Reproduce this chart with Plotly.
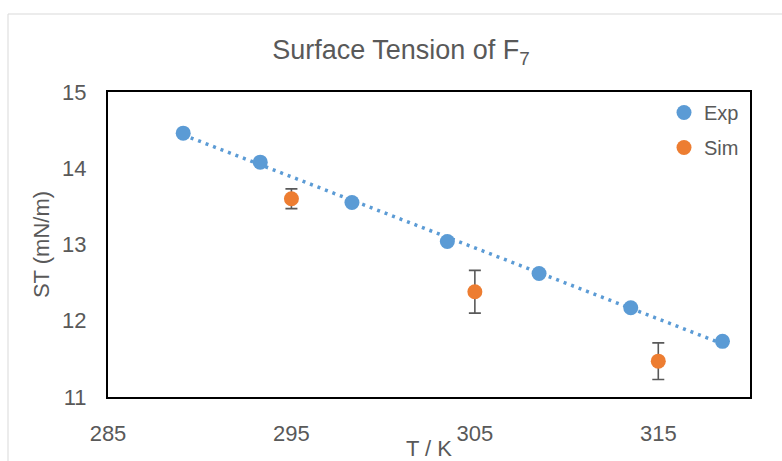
import numpy as np
import plotly.graph_objects as go

# Experimental data
exp_T = [289.1, 293.3, 298.3, 303.5, 308.5, 313.5, 318.5]
exp_ST = [14.46, 14.08, 13.55, 13.04, 12.62, 12.17, 11.73]

# Simulation data
sim_T = [295, 305, 315]
sim_ST = [13.60, 12.38, 11.47]
sim_err = [0.13, 0.28, 0.24]

x_ticks = [285, 295, 305, 315]
y_ticks = [11, 12, 13, 14, 15]

BLUE = "#5B9BD5"
ORANGE = "#ED7D31"
TXT = "#595959"

# linear trendline of experimental data
coef = np.polyfit(exp_T, exp_ST, 1)
tr_x = np.array([min(exp_T), max(exp_T)])
tr_y = np.polyval(coef, tr_x)

fig = go.Figure()
fig.add_trace(go.Scatter(
    x=tr_x, y=tr_y, mode="lines", showlegend=False, hoverinfo="skip",
    line=dict(color=BLUE, width=3.5, dash="3px,5px"),
))
fig.add_trace(go.Scatter(
    x=exp_T, y=exp_ST, mode="markers", name="Exp", legendgroup="a",
    marker=dict(color=BLUE, size=15),
))
fig.add_trace(go.Scatter(
    x=sim_T, y=sim_ST, mode="markers", name="Sim", legendgroup="b",
    marker=dict(color=ORANGE, size=15),
    error_y=dict(type="data", array=sim_err, color="#595959", thickness=1.6, width=6),
))

W, H = 782, 461
L, R, T, B = 108, 32, 92, 64
pw, ph = W - L - R, H - T - B

def px_x(p):
    return (p - L) / pw

def px_y(p):
    return (H - B - p) / ph

fig.add_shape(type="rect", xref="paper", yref="paper",
              x0=px_x(8), x1=px_x(W + 20), y0=px_y(H + 20), y1=px_y(14),
              line=dict(color="#D9D9D9", width=1), fillcolor="rgba(0,0,0,0)", layer="below")

fig.update_layout(
    width=W, height=H,
    margin=dict(l=L, r=R, t=T, b=B, pad=0, autoexpand=False),
    paper_bgcolor="white", plot_bgcolor="white",
    font=dict(family="Liberation Sans, Arial, sans-serif", color=TXT, size=22),
    title=dict(text="Surface Tension of F<sub>7</sub>", x=401 / W, xanchor="center",
               xref="container", y=1 - 50 / H, yanchor="middle", yref="container",
               font=dict(size=27, color=TXT)),
    legend=dict(x=px_x(664), y=px_y(93), xanchor="left", yanchor="top",
                bgcolor="rgba(0,0,0,0)", font=dict(size=20, color=TXT),
                tracegroupgap=6, itemwidth=30),
    showlegend=True,
)
fig.update_xaxes(range=[285, 320], tickvals=x_ticks, showgrid=False, zeroline=False,
                 showline=True, mirror=True, linecolor="black", linewidth=2,
                 ticks="", ticklabelstandoff=16, automargin=False,
                 title=dict(text="T / K", standoff=0, font=dict(size=22, color=TXT)))
fig.update_yaxes(range=[11, 15], tickvals=y_ticks, showgrid=False, zeroline=False,
                 showline=True, mirror=True, linecolor="black", linewidth=2,
                 ticks="", ticklabelstandoff=15, automargin=False,
                 title=dict(text="ST (mN/m)", standoff=6, font=dict(size=22, color=TXT)))

fig.write_html("out.html", config={"displayModeBar": False},
               post_script="document.body.style.margin='0';")
